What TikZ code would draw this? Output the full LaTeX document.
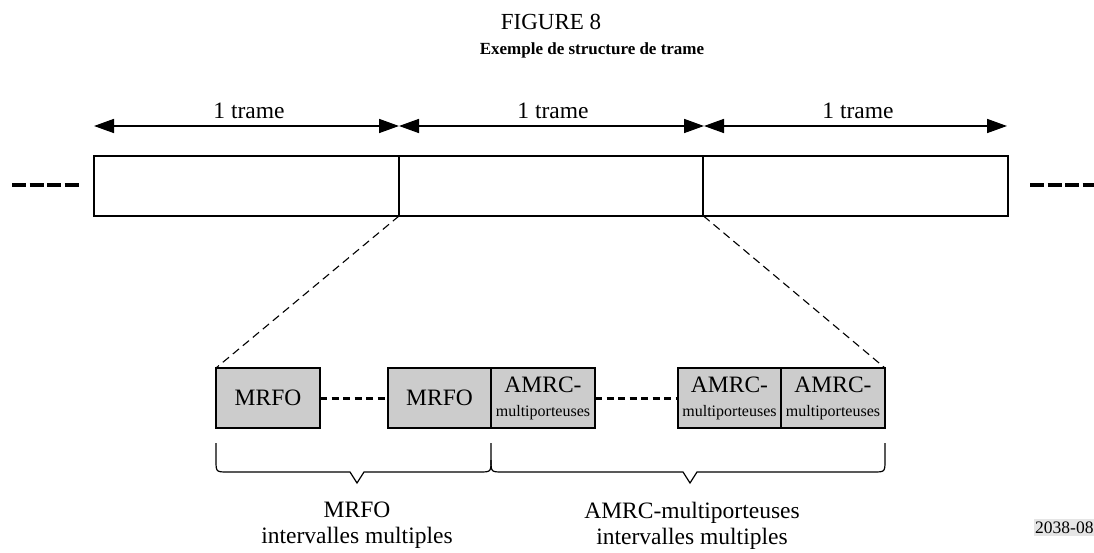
\documentclass[tikz,border=0pt]{standalone}
\usepackage{fontspec}
\setmainfont{Liberation Serif}
\usetikzlibrary{arrows.meta}
\begin{document}
\begin{tikzpicture}[x=1pt,y=-1pt,
  txt/.style={font=\fontsize{23.5}{26}\selectfont},
  frame/.style={draw,line width=1.5pt,minimum width=305pt,minimum height=60pt,inner sep=0pt,outer sep=0pt},
  slot/.style={draw,line width=1.8pt,fill=black!20,minimum width=104pt,minimum height=60pt,inner sep=0pt,outer sep=0pt,align=center,font=\fontsize{23.5}{24}\selectfont},
  span/.style={line width=1.6pt,{Triangle[length=20pt,width=14pt]}-{Triangle[length=20pt,width=14pt]}},
  gapline/.style={line width=3pt,dash pattern=on 7pt off 4.5pt},
  moreline/.style={line width=3.5pt,dash pattern=on 14pt off 3.5pt},
  zoomline/.style={line width=1.1pt,dash pattern=on 8pt off 5pt},
  brace/.style={line width=1.2pt}]
\useasboundingbox (0,0) rectangle (1094,553);

% captions
\node[anchor=base,font=\fontsize{23}{23}\selectfont] (fig) at (551,30) {FIGURE 8};
\node[anchor=base,font=\fontsize{17}{18}\selectfont\bfseries] (title) at (592,55) {Exemple de structure de trame};

% three frames
\node[frame] (f1) at (246.5,186) {};
\node[frame] (f2) at (551,186) {};
\node[frame] (f3) at (855.5,186) {};

% span arrows above the frames
\coordinate (a0) at (94,126);
\coordinate (a1) at (399,126);
\coordinate (a2) at (704,126);
\coordinate (a3) at (1007,126);
\draw[span] (a0) -- (a1);
\draw[span] (a1) -- (a2);
\draw[span] (a2) -- (a3);
\node[txt,anchor=base] (t1) at (249,119) {1 trame};
\node[txt,anchor=base] (t2) at (553,119) {1 trame};
\node[txt,anchor=base] (t3) at (858,119) {1 trame};

% continuation marks
\coordinate (l0) at (12,185);
\coordinate (l1) at (81,185);
\coordinate (r0) at (1030,185);
\coordinate (r1) at (1094,185);
\draw[moreline] (l0) -- (l1);
\draw[moreline] (r0) -- (r1);

% slots of the middle frame
\node[slot] (s1) at (268,398) {MRFO};
\node[slot,minimum width=103pt] (s2) at (439.5,398) {MRFO};
\node[slot] (s3) at (543,398) {AMRC-\\{\fontsize{16}{24}\selectfont multiporteuses}};
\node[slot,minimum width=103pt] (s4) at (729.5,398) {AMRC-\\{\fontsize{16}{24}\selectfont multiporteuses}};
\node[slot] (s5) at (833,398) {AMRC-\\{\fontsize{16}{24}\selectfont multiporteuses}};
\draw[gapline] (s1.east) -- (s2.west);
\draw[gapline] (s3.east) -- (s4.west);

% zoom lines
\draw[zoomline] (f1.south east) -- (s1.north west);
\draw[zoomline] (f2.south east) -- (s5.north east);

% braces
\draw[brace] (216,443) -- (216,460) .. controls (216,472) .. (228,472) -- (350,472) -- (357,483) -- (364,472) -- (479,472) .. controls (491,472) .. (491,460) -- (491,443);
\draw[brace] (491,460) .. controls (491,472) .. (503,472) -- (683,472) -- (690,483) -- (697,472) -- (873,472) .. controls (885,472) .. (885,460) -- (885,443);
\node[txt,align=center,anchor=north,inner sep=0pt] (b1) at (357,502) {MRFO\\intervalles multiples};
\node[txt,align=center,anchor=north,inner sep=0pt] (b2) at (692,502) {AMRC-multiporteuses\\intervalles multiples};

% figure number
\node[anchor=base west,fill=black!10,inner xsep=1pt,inner ysep=2.5pt,font=\fontsize{17.5}{18}\selectfont] (num) at (1034,533) {2038-08};
\end{tikzpicture}
\end{document}
